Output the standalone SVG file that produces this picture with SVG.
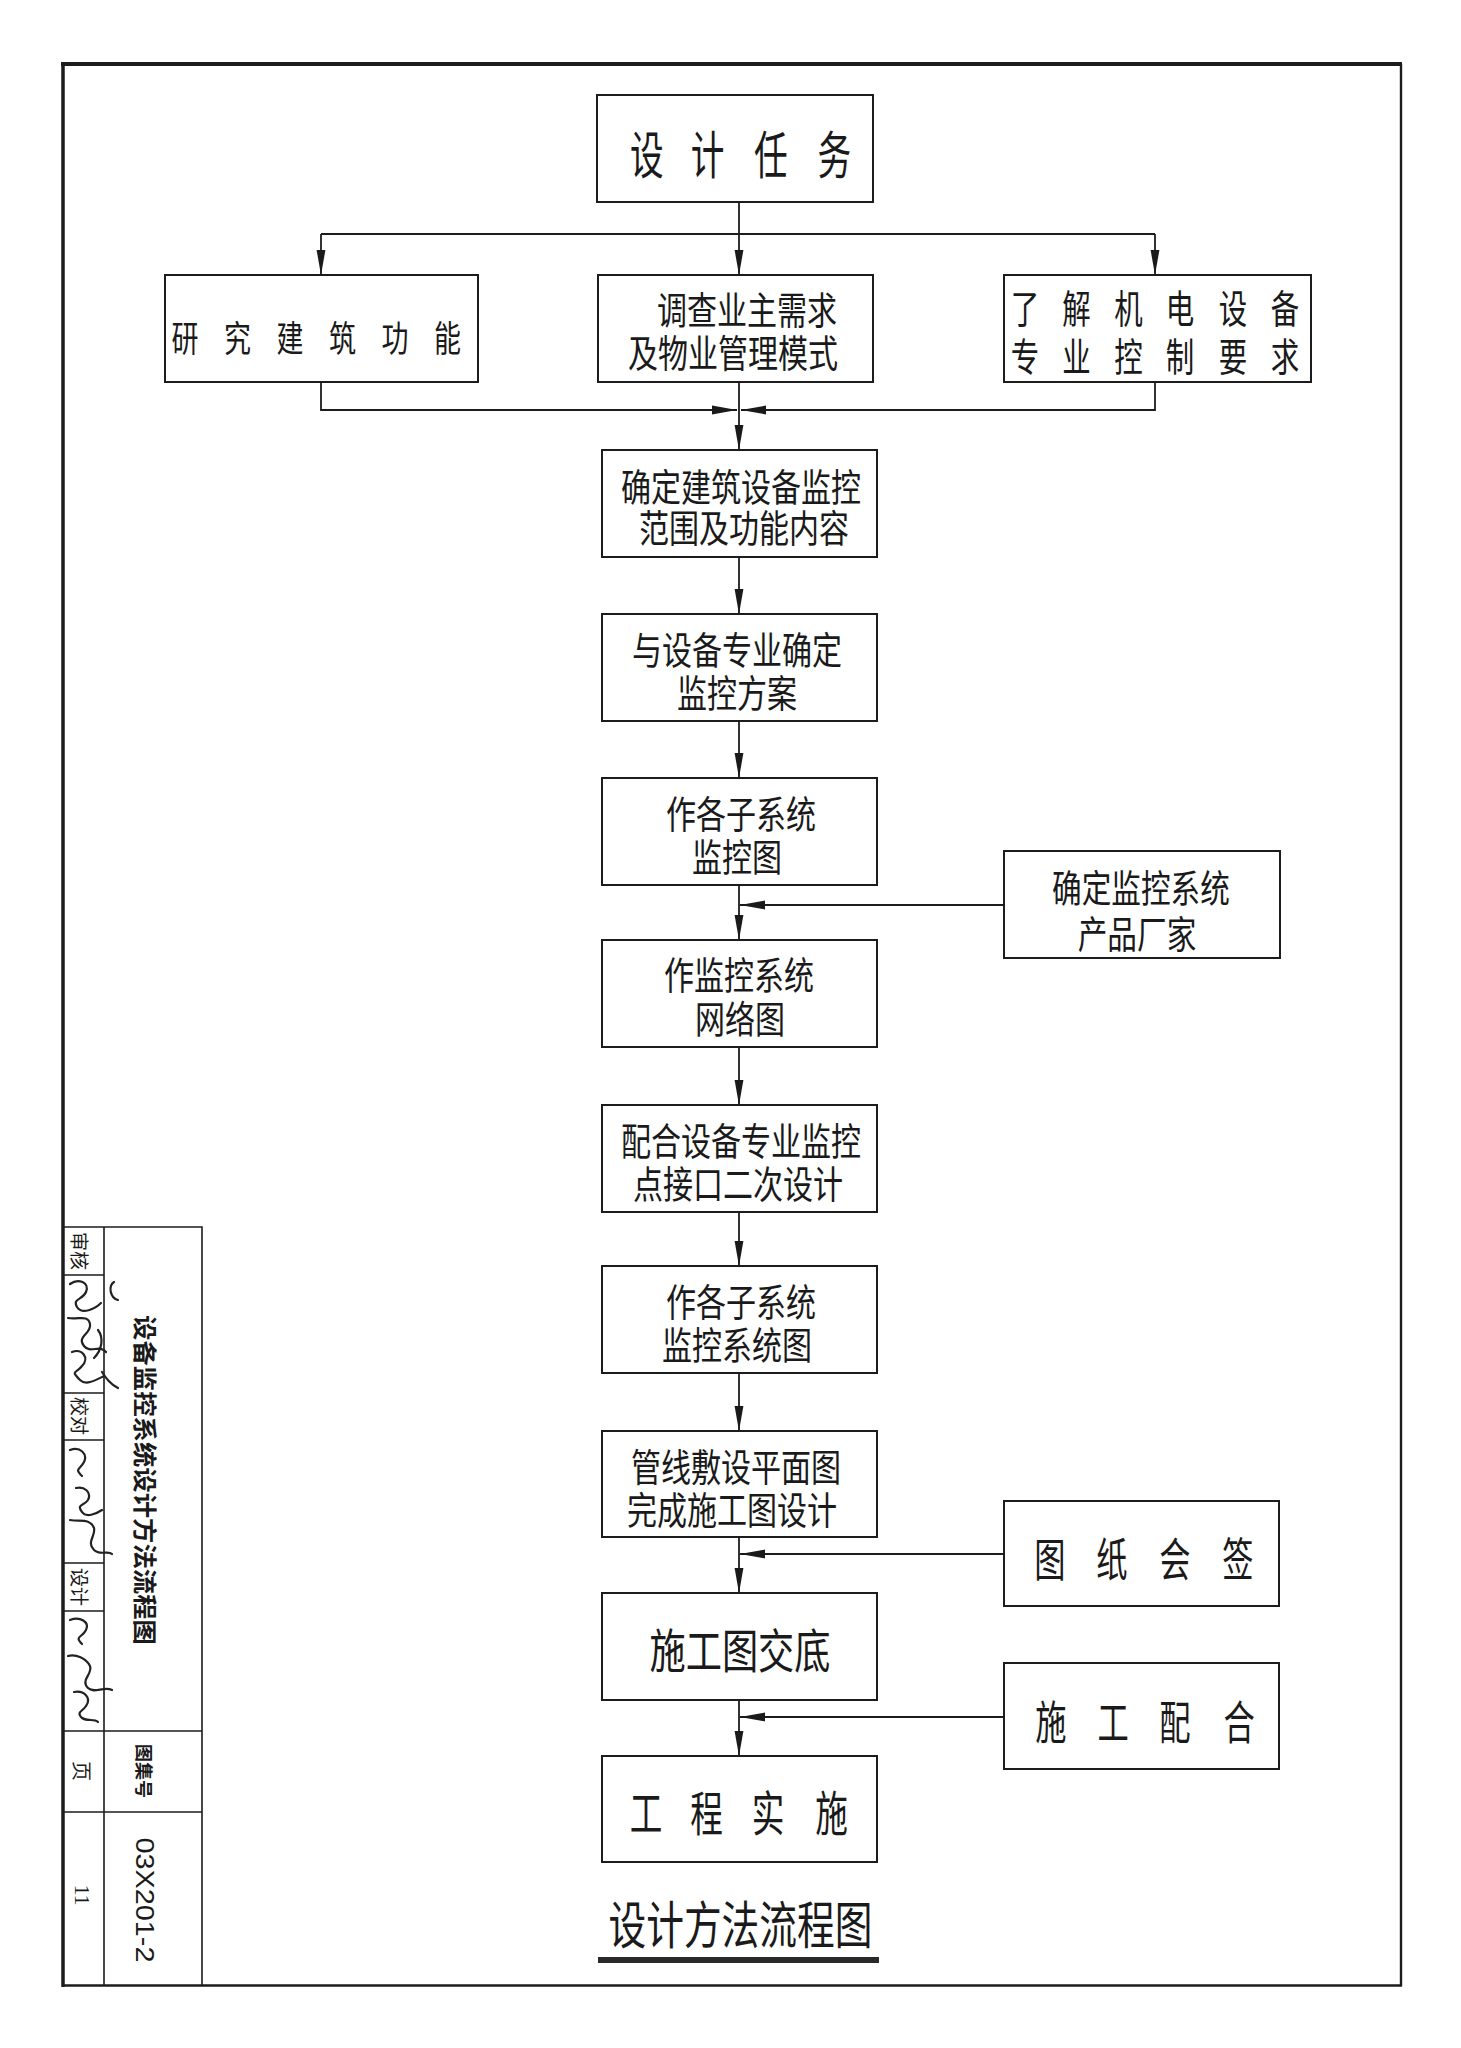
<svg xmlns="http://www.w3.org/2000/svg" width="1461" height="2048" viewBox="0 0 1461 2048">
<style>
.bx{fill:none;stroke:#1c1c1c;stroke-width:2}
.cn{fill:none;stroke:#1c1c1c;stroke-width:1.8}
.ln{fill:none;stroke:#1c1c1c;stroke-width:1.6}
.t{font-family:"Noto Sans CJK SC","Noto Sans CJK JP",sans-serif;fill:#1a1a1a;text-anchor:middle;dominant-baseline:central}
.s{fill:none;stroke:#222;stroke-width:2.2;stroke-linecap:round;stroke-linejoin:round}
</style>
<defs>
<marker id="ah" markerUnits="userSpaceOnUse" markerWidth="26" markerHeight="10" refX="25" refY="5" orient="auto">
<path d="M0,0.6 L25,5 L0,9.4 z" fill="#1a1a1a"/>
</marker>
</defs>
<rect width="1461" height="2048" fill="#ffffff"/>

<!-- page frame -->
<g id="frame">
<line x1="61" y1="64" x2="1402" y2="64" stroke="#1c1c1c" stroke-width="4"/>
<line x1="63" y1="62" x2="63" y2="1987" stroke="#1c1c1c" stroke-width="3.5"/>
<line x1="1401" y1="64" x2="1401" y2="1986" stroke="#1c1c1c" stroke-width="2.4"/>
<line x1="62" y1="1985.5" x2="1402" y2="1985.5" stroke="#1c1c1c" stroke-width="2.6"/>
</g>

<!-- connectors -->
<g id="connectors">
<path class="cn" d="M739,202 V275" marker-end="url(#ah)"/>
<path class="cn" d="M321,234 H1155"/>
<path class="cn" d="M321,234 V275" marker-end="url(#ah)"/>
<path class="cn" d="M1155,234 V275" marker-end="url(#ah)"/>
<path class="cn" d="M321,382 V410 H737" marker-end="url(#ah)"/>
<path class="cn" d="M1155,382 V410 H741" marker-end="url(#ah)"/>
<path class="cn" d="M739,382 V450" marker-end="url(#ah)"/>
<path class="cn" d="M739,557 V614" marker-end="url(#ah)"/>
<path class="cn" d="M739,721 V778" marker-end="url(#ah)"/>
<path class="cn" d="M739,885 V940" marker-end="url(#ah)"/>
<path class="cn" d="M739,1047 V1105" marker-end="url(#ah)"/>
<path class="cn" d="M739,1212 V1266" marker-end="url(#ah)"/>
<path class="cn" d="M739,1373 V1431" marker-end="url(#ah)"/>
<path class="cn" d="M739,1537 V1593" marker-end="url(#ah)"/>
<path class="cn" d="M739,1700 V1756" marker-end="url(#ah)"/>
<path class="cn" d="M1004,905 H740" marker-end="url(#ah)"/>
<path class="cn" d="M1004,1554 H740" marker-end="url(#ah)"/>
<path class="cn" d="M1004,1717 H740" marker-end="url(#ah)"/>
</g>

<g id="n-task">
<rect class="bx" x="597" y="95" width="276" height="107"/>
<text class="t" font-size="51" transform="translate(0,151.5) scale(0.66,1)" x="980 1072 1168 1264">设计任务</text>
</g>

<g id="n-study">
<rect class="bx" x="165" y="275" width="313" height="107"/>
<text class="t" font-size="36" transform="translate(0,336.5) scale(0.75,1)" x="246.7 316.7 386.7 456.7 526.7 596.7">研究建筑功能</text>
</g>

<g id="n-survey">
<rect class="bx" x="598" y="275" width="275" height="107"/>
<text class="t" font-size="38" transform="scale(0.79,1)"><tspan x="945.6" y="307">调查业主需求</tspan><tspan x="927.8" y="350">及物业管理模式</tspan></text>
</g>

<g id="n-mep">
<rect class="bx" x="1004" y="275" width="307" height="107"/>
<text class="t" font-size="39" transform="scale(0.73,1)"><tspan x="1404 1474.7 1545.9 1616.4 1689 1760.3" y="306">了解机电设备</tspan><tspan x="1404 1474.7 1545.9 1616.4 1689 1760.3" y="354">专业控制要求</tspan></text>
</g>

<g id="n-scope">
<rect class="bx" x="602" y="450" width="275" height="107"/>
<text class="t" font-size="38" transform="scale(0.79,1)"><tspan x="938" y="484">确定建筑设备监控</tspan><tspan x="941.8" y="525">范围及功能内容</tspan></text>
</g>

<g id="n-scheme">
<rect class="bx" x="602" y="614" width="275" height="107"/>
<text class="t" font-size="38" transform="scale(0.79,1)"><tspan x="932.9" y="647">与设备专业确定</tspan><tspan x="932.9" y="690">监控方案</tspan></text>
</g>

<g id="n-subsys">
<rect class="bx" x="602" y="778" width="275" height="107"/>
<text class="t" font-size="38" transform="scale(0.79,1)"><tspan x="938" y="811">作各子系统</tspan><tspan x="932.9" y="854">监控图</tspan></text>
</g>

<g id="n-vendor">
<rect class="bx" x="1004" y="851" width="276" height="107"/>
<text class="t" font-size="38" transform="scale(0.78,1)"><tspan x="1462.8" y="885">确定监控系统</tspan><tspan x="1457.7" y="931">产品厂家</tspan></text>
</g>

<g id="n-network">
<rect class="bx" x="602" y="940" width="275" height="107"/>
<text class="t" font-size="38" transform="scale(0.79,1)"><tspan x="935.4" y="972">作监控系统</tspan><tspan x="936.7" y="1016">网络图</tspan></text>
</g>

<g id="n-interface">
<rect class="bx" x="602" y="1105" width="275" height="107"/>
<text class="t" font-size="38" transform="scale(0.79,1)"><tspan x="938" y="1138">配合设备专业监控</tspan><tspan x="934.2" y="1181">点接口二次设计</tspan></text>
</g>

<g id="n-sysdiagram">
<rect class="bx" x="602" y="1266" width="275" height="107"/>
<text class="t" font-size="38" transform="scale(0.79,1)"><tspan x="938" y="1299">作各子系统</tspan><tspan x="932.9" y="1342">监控系统图</tspan></text>
</g>

<g id="n-layout">
<rect class="bx" x="602" y="1431" width="275" height="106"/>
<text class="t" font-size="38" transform="scale(0.79,1)"><tspan x="931.6" y="1464">管线敷设平面图</tspan><tspan x="926.6" y="1507">完成施工图设计</tspan></text>
</g>

<g id="n-countersign">
<rect class="bx" x="1004" y="1501" width="275" height="105"/>
<text class="t" font-size="46" transform="translate(0,1556) scale(0.68,1)" x="1544.1 1635.3 1727.9 1820.6">图纸会签</text>
</g>

<g id="n-handover">
<rect class="bx" x="602" y="1593" width="275" height="107"/>
<text class="t" font-size="47" transform="translate(740,1647.5) scale(0.77,1)">施工图交底</text>
</g>

<g id="n-cooperate">
<rect class="bx" x="1004" y="1663" width="275" height="106"/>
<text class="t" font-size="46" transform="translate(0,1719) scale(0.68,1)" x="1545.6 1636.8 1727.9 1822.1">施工配合</text>
</g>

<g id="n-implement">
<rect class="bx" x="602" y="1756" width="275" height="106"/>
<text class="t" font-size="48" transform="translate(0,1810) scale(0.68,1)" x="950 1039 1129.4 1222.8">工程实施</text>
</g>

<g id="title">
<text class="t" font-size="51" transform="translate(740.5,1921.5) scale(0.74,1)">设计方法流程图</text>
<rect x="598" y="1957" width="281" height="6" fill="#2a2a2a"/>
</g>

<!-- title block -->
<g id="title-block">
<path class="ln" d="M62,1227 H202 V1986 M104,1227 V1986 M62,1275 H104 M62,1393 H104 M62,1440 H104 M62,1563 H104 M62,1611 H104 M62,1731 H202 M62,1812 H202"/>
<text class="t" font-size="19" transform="translate(80,1251) rotate(90)">审核</text>
<text class="t" font-size="19" transform="translate(80,1416) rotate(90)">校对</text>
<text class="t" font-size="19" transform="translate(80,1587) rotate(90)">设计</text>
<text class="t" font-size="20" transform="translate(82,1771) rotate(90)">页</text>
<text font-family="Liberation Serif, serif" font-size="22" fill="#1a1a1a" text-anchor="middle" dominant-baseline="central" transform="translate(82,1895) rotate(90)">11</text>
<text class="t" font-size="24" font-weight="bold" transform="translate(146,1480) rotate(90)" textLength="330" lengthAdjust="spacingAndGlyphs">设备监控系统设计方法流程图</text>
<text class="t" font-size="18" font-weight="bold" transform="translate(145,1771) rotate(90)">图集号</text>
<text font-family="Liberation Sans, sans-serif" font-size="25" fill="#1a1a1a" text-anchor="middle" dominant-baseline="central" transform="translate(145,1900) rotate(90)" textLength="125" lengthAdjust="spacingAndGlyphs">03X201-2</text>
</g>

<g id="signatures">
<path class="s" d="M70,1284 c8,-6 20,-2 16,8 c-3,8 -14,6 -9,15 c5,8 18,2 24,-4 M114,1282 c-6,4 -4,16 4,18"/>
<path class="s" d="M68,1318 c10,2 20,-4 22,6 c2,10 -14,12 -6,22 c6,8 16,-2 22,6 M72,1352 c10,-4 18,6 10,14 c-6,8 -12,4 -2,14 c6,6 16,0 24,-4 M98,1330 c6,8 4,20 -4,28 M102,1372 c4,6 8,12 16,16"/>
<path class="s" d="M70,1450 c10,-4 18,4 14,12 c-4,8 -10,6 -2,14 M76,1488 c8,-2 16,4 12,12 c-4,6 -12,4 -6,12 c4,6 14,2 20,-2 M70,1520 c10,2 20,-2 24,8 c2,8 -8,14 0,22 c6,6 14,0 18,4"/>
<path class="s" d="M70,1620 c10,-4 20,2 16,10 c-4,8 -12,6 -4,14 M68,1656 c8,-2 18,2 22,10 c3,8 -10,14 -2,22 c6,6 16,-2 24,2 M74,1692 c10,-2 18,6 12,14 c-4,6 -10,6 -4,12 c6,4 12,0 16,4"/>
</g>
</svg>
